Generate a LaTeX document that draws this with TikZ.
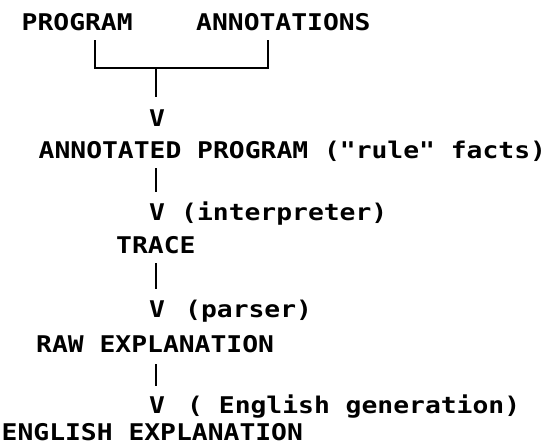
\documentclass[tikz,border=0pt]{standalone}
\usepackage{graphicx}
\usepackage{fontspec}
\setmonofont{DejaVu Sans Mono}
\usetikzlibrary{positioning}

%widened typewriter text
\newcommand{\tw}[1]{\scalebox{1.145}[1]{#1}}

\tikzset{
  txt/.style={font=\ttfamily\bfseries\fontsize{23}{26}\selectfont, inner sep=0pt, text depth=0pt, anchor=base west},
  arr/.style={txt, anchor=base},
  bar/.style={line width=2.6pt},
}

\begin{document}
\begin{tikzpicture}[x=1pt,y=-1pt]
  \useasboundingbox (0,0) rectangle (547,445);

  %inputs
  \node[txt] (prog) at (21.5,30) {\tw{PROGRAM}};
  \node[txt] (ann) at (196,30) {\tw{ANNOTATIONS}};

  %merge bracket
  \coordinate (progtap) at (95,68);
  \coordinate (anntap) at (268,68);
  \coordinate (join) at (156,68);
  \draw[bar, shorten <=10pt, shorten >=10pt] (prog.south -| progtap) -- (progtap) -- (anntap) -- (ann.south -| anntap);

  \node[arr] (vA) at (157,126) {\tw{V}};
  \draw[bar, shorten >=12pt] (join) -- (join |- vA.north);

  %annotated program
  \node[txt] (annot) at (38.5,158) {\tw{ANNOTATED PROGRAM ("rule" facts)}};

  \node[arr] (vB) at (157,220) {\tw{V}};
  \node[txt] (interp) at (181,220) {\tw{(interpreter)}};
  \draw[bar, shorten <=10pt, shorten >=11pt] (annot.south -| join) -- (join |- vB.north);

  %trace
  \node[txt] (trace) at (116,253) {\tw{TRACE}};

  \node[arr] (vC) at (157,317) {\tw{V}};
  \node[txt] (parse) at (185,317) {\tw{(parser)}};
  \draw[bar, shorten <=10pt, shorten >=11pt] (trace.south -| join) -- (join |- vC.north);

  %raw explanation
  \node[txt] (raw) at (36,352) {\tw{RAW EXPLANATION}};

  \node[arr] (vD) at (157,413) {\tw{V}};
  \node[txt] (gen) at (187,413) {\tw{( English generation)}};
  \draw[bar, shorten <=12pt, shorten >=10pt] (raw.south -| join) -- (join |- vD.north);

  %final output
  \node[txt] (eng) at (1.5,440) {\tw{ENGLISH EXPLANATION}};
\end{tikzpicture}
\end{document}
